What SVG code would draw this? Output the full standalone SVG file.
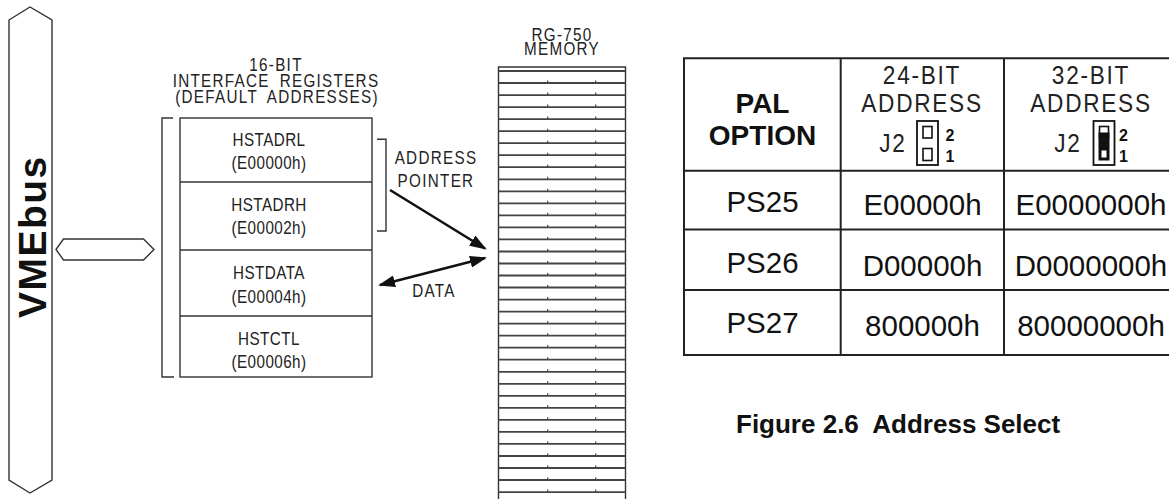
<svg xmlns="http://www.w3.org/2000/svg" width="1169" height="499" viewBox="0 0 1169 499">
<style>
.ln{fill:none;stroke:#333;stroke-width:1.4}
.sm{font-family:"Liberation Sans",Arial,sans-serif;font-size:17.5px;fill:#222;letter-spacing:1.5px;text-anchor:middle}
.rg{letter-spacing:0.5px}
.hd{letter-spacing:1.5px;word-spacing:5px}
.tb{fill:none;stroke:#222;stroke-width:2}
.big{font-family:"Liberation Sans",Arial,sans-serif;font-size:26px;fill:#222;letter-spacing:2px;text-anchor:middle}
.val{font-family:"Liberation Sans",Arial,sans-serif;font-size:29.5px;fill:#111;text-anchor:middle}
.bold{font-family:"Liberation Sans",Arial,sans-serif;font-weight:bold;fill:#111}
.mem{stroke:#444;stroke-width:1.8}
.tick{stroke:#444;stroke-width:1.2}
.arr{fill:none;stroke:#111;stroke-width:2.6}
</style>
<defs>
<marker id="ah" markerWidth="17" markerHeight="12" refX="15" refY="6" orient="auto-start-reverse" markerUnits="userSpaceOnUse">
<path d="M0,0 L17,6 L0,12 Z" fill="#111"/>
</marker>
</defs>
<rect width="1169" height="499" fill="#fff"/>

<g id="vmebus">
<path class="ln" d="M9,20 L30,7 L52,20 L52,480 L30,493 L9,480 Z"/>
<text class="bold" font-size="39" letter-spacing="1.5" text-anchor="middle" transform="translate(46,236.7) rotate(-90)">VMEbus</text>
</g>

<g id="bus-link">
<path class="ln" d="M56,249.5 L63.5,239 L143.5,239 L154,249.5 L143.5,260 L63.5,260 Z"/>
</g>

<g id="registers">
<text class="sm hd" transform="translate(276,70.7) scale(0.87,1)">16-BIT</text>
<text class="sm hd" transform="translate(276,86.7) scale(0.87,1)">INTERFACE REGISTERS</text>
<text class="sm hd" transform="translate(277,102.5) scale(0.87,1)">(DEFAULT ADDRESSES)</text>
<path class="ln" d="M173,118 L162,118 L162,377 L174,377"/>
<rect class="ln" x="180" y="118" width="192" height="259"/>
<line class="ln" x1="180" y1="182" x2="372" y2="182"/>
<line class="ln" x1="180" y1="250" x2="372" y2="250"/>
<line class="ln" x1="180" y1="316" x2="372" y2="316"/>
<text class="sm rg" transform="translate(269,145.7) scale(0.87,1)">HSTADRL</text>
<text class="sm rg" transform="translate(269,169) scale(0.87,1)">(E00000h)</text>
<text class="sm rg" transform="translate(269,210.7) scale(0.87,1)">HSTADRH</text>
<text class="sm rg" transform="translate(269,234) scale(0.87,1)">(E00002h)</text>
<text class="sm rg" transform="translate(269,279.3) scale(0.87,1)">HSTDATA</text>
<text class="sm rg" transform="translate(269,303.3) scale(0.87,1)">(E00004h)</text>
<text class="sm rg" transform="translate(269,345) scale(0.87,1)">HSTCTL</text>
<text class="sm rg" transform="translate(269,368) scale(0.87,1)">(E00006h)</text>
</g>

<g id="address-pointer">
<path class="ln" d="M377,139.3 L386,139.3 L386,231 L377,231"/>
<text class="sm" transform="translate(436,164) scale(0.87,1)">ADDRESS</text>
<text class="sm" transform="translate(436,187) scale(0.87,1)">POINTER</text>
</g>

<g id="memory">
<text class="sm" transform="translate(562,41) scale(0.87,1)">RG-750</text>
<text class="sm" transform="translate(562,55) scale(0.87,1)">MEMORY</text>
<path class="ln" d="M498.5,505 L498.5,67 L625.5,67 L625.5,505"/>
<g id="mem-rows">
<line class="mem" x1="498.5" x2="625.5" y1="71" y2="71"/>
<line class="mem" x1="498.5" x2="625.5" y1="83" y2="83"/>
<line class="mem" x1="498.5" x2="625.5" y1="95.1" y2="95.1"/>
<line class="mem" x1="498.5" x2="625.5" y1="107.1" y2="107.1"/>
<line class="mem" x1="498.5" x2="625.5" y1="119.1" y2="119.1"/>
<line class="mem" x1="498.5" x2="625.5" y1="131.2" y2="131.2"/>
<line class="mem" x1="498.5" x2="625.5" y1="143.2" y2="143.2"/>
<line class="mem" x1="498.5" x2="625.5" y1="155.2" y2="155.2"/>
<line class="mem" x1="498.5" x2="625.5" y1="167.2" y2="167.2"/>
<line class="mem" x1="498.5" x2="625.5" y1="179.3" y2="179.3"/>
<line class="mem" x1="498.5" x2="625.5" y1="191.3" y2="191.3"/>
<line class="mem" x1="498.5" x2="625.5" y1="203.3" y2="203.3"/>
<line class="mem" x1="498.5" x2="625.5" y1="215.4" y2="215.4"/>
<line class="mem" x1="498.5" x2="625.5" y1="227.4" y2="227.4"/>
<line class="mem" x1="498.5" x2="625.5" y1="239.4" y2="239.4"/>
<line class="mem" x1="498.5" x2="625.5" y1="251.5" y2="251.5"/>
<line class="mem" x1="498.5" x2="625.5" y1="263.5" y2="263.5"/>
<line class="mem" x1="498.5" x2="625.5" y1="275.5" y2="275.5"/>
<line class="mem" x1="498.5" x2="625.5" y1="287.5" y2="287.5"/>
<line class="mem" x1="498.5" x2="625.5" y1="299.6" y2="299.6"/>
<line class="mem" x1="498.5" x2="625.5" y1="311.6" y2="311.6"/>
<line class="mem" x1="498.5" x2="625.5" y1="323.6" y2="323.6"/>
<line class="mem" x1="498.5" x2="625.5" y1="335.7" y2="335.7"/>
<line class="mem" x1="498.5" x2="625.5" y1="347.7" y2="347.7"/>
<line class="mem" x1="498.5" x2="625.5" y1="359.7" y2="359.7"/>
<line class="mem" x1="498.5" x2="625.5" y1="371.8" y2="371.8"/>
<line class="mem" x1="498.5" x2="625.5" y1="383.8" y2="383.8"/>
<line class="mem" x1="498.5" x2="625.5" y1="395.8" y2="395.8"/>
<line class="mem" x1="498.5" x2="625.5" y1="407.8" y2="407.8"/>
<line class="mem" x1="498.5" x2="625.5" y1="419.9" y2="419.9"/>
<line class="mem" x1="498.5" x2="625.5" y1="431.9" y2="431.9"/>
<line class="mem" x1="498.5" x2="625.5" y1="443.9" y2="443.9"/>
<line class="mem" x1="498.5" x2="625.5" y1="456" y2="456"/>
<line class="mem" x1="498.5" x2="625.5" y1="468" y2="468"/>
<line class="mem" x1="498.5" x2="625.5" y1="480" y2="480"/>
<line class="mem" x1="498.5" x2="625.5" y1="492.1" y2="492.1"/>
</g>
<path class="tick" stroke-dasharray="2.5 9.53" stroke-dashoffset="-9.53" d="M547.7,71 L547.7,499 M595.7,71 L595.7,499"/>
</g>

<g id="connectors">
<line class="arr" x1="390" y1="190" x2="485" y2="248.5" marker-end="url(#ah)"/>
<line class="arr" x1="380" y1="285" x2="485" y2="258" marker-start="url(#ah)" marker-end="url(#ah)"/>
<text class="sm" transform="translate(434,296.7) scale(0.87,1)">DATA</text>
</g>

<g id="table">
<path class="tb" d="M1180,58.3 L684,58.3 L684,355 L1180,355"/>
<line class="tb" x1="840.7" y1="58.3" x2="840.7" y2="355"/>
<line class="tb" x1="1004" y1="58.3" x2="1004" y2="355"/>
<line class="tb" x1="684" y1="170.7" x2="1180" y2="170.7"/>
<line class="tb" x1="684" y1="229.5" x2="1180" y2="229.5"/>
<line class="tb" x1="684" y1="290" x2="1180" y2="290"/>
<text class="bold" font-size="28" text-anchor="middle" x="762.5" y="113.3">PAL</text>
<text class="bold" font-size="28" text-anchor="middle" x="762.5" y="145">OPTION</text>
<text class="big" transform="translate(922,84.3) scale(0.87,1)">24-BIT</text>
<text class="big" transform="translate(922,111.7) scale(0.87,1)">ADDRESS</text>
<text class="big" transform="translate(893,151.7) scale(0.87,1)">J2</text>
<rect x="917" y="121" width="21" height="44" fill="none" stroke="#111" stroke-width="1.8"/>
<rect x="923" y="126.5" width="9" height="11.5" fill="none" stroke="#111" stroke-width="1.6"/>
<rect x="923" y="148.5" width="9" height="12" fill="none" stroke="#111" stroke-width="1.6"/>
<text class="bold" font-size="16" x="945.5" y="140.5">2</text>
<text class="bold" font-size="16" x="945.5" y="162">1</text>
<text class="big" transform="translate(1091,84.3) scale(0.87,1)">32-BIT</text>
<text class="big" transform="translate(1091,111.7) scale(0.87,1)">ADDRESS</text>
<text class="big" transform="translate(1068,151.7) scale(0.87,1)">J2</text>
<rect x="1093.5" y="121" width="21" height="44" fill="none" stroke="#111" stroke-width="1.8"/>
<rect x="1099.5" y="126.5" width="9" height="11.5" fill="none" stroke="#111" stroke-width="1.6"/>
<rect x="1098.5" y="132.5" width="11" height="28" fill="#111"/>
<rect x="1101.5" y="150.5" width="5" height="7" fill="#fff"/>
<text class="bold" font-size="16" x="1119" y="140.5">2</text>
<text class="bold" font-size="16" x="1119" y="162">1</text>
<text class="val" x="762.5" y="212">PS25</text>
<text class="val" x="922.5" y="214.5">E00000h</text>
<text class="val" x="1091" y="214.5">E0000000h</text>
<text class="val" x="762.5" y="273">PS26</text>
<text class="val" x="922.5" y="275.5">D00000h</text>
<text class="val" x="1091" y="275.5">D0000000h</text>
<text class="val" x="762.5" y="333">PS27</text>
<text class="val" x="922.5" y="335.5">800000h</text>
<text class="val" x="1091" y="335.5">80000000h</text>
</g>

<g id="caption">
<text class="bold" font-size="26" x="736" y="432.7" xml:space="preserve">Figure 2.6  Address Select</text>
</g>
</svg>
